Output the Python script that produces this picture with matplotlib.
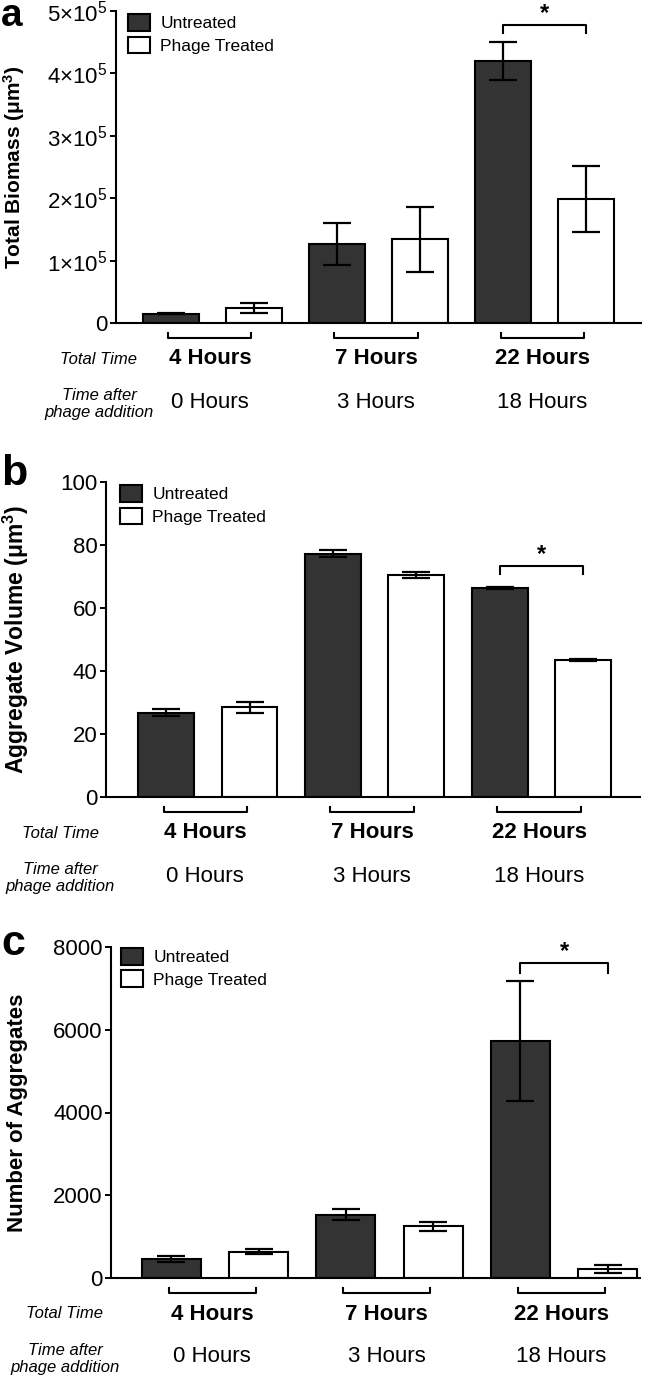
import numpy as np
import matplotlib
matplotlib.use('Agg')
import matplotlib.pyplot as plt

plt.rcParams['font.family'] = ['Liberation Sans', 'DejaVu Sans']
plt.rcParams['mathtext.fontset'] = 'custom'
plt.rcParams['mathtext.rm'] = 'Liberation Sans'
plt.rcParams['mathtext.bf'] = 'Liberation Sans:bold'
plt.rcParams['mathtext.default'] = 'rm'

# data
total_time = ['4 Hours', '7 Hours', '22 Hours']
after_phage = ['0 Hours', '3 Hours', '18 Hours']
legend_labels = ['Untreated', 'Phage Treated']

biomass_untreated = [1.5e4, 1.27e5, 4.20e5]
biomass_untreated_err = [1.0e3, 3.4e4, 3.0e4]
biomass_phage = [2.4e4, 1.34e5, 1.99e5]
biomass_phage_err = [7.5e3, 5.2e4, 5.3e4]
biomass_ticks = [0, 1e5, 2e5, 3e5, 4e5, 5e5]
biomass_ticklabels = ['0', '1×10$^{5}$', '2×10$^{5}$', '3×10$^{5}$', '4×10$^{5}$', '5×10$^{5}$']

volume_untreated = [26.8, 77.2, 66.4]
volume_untreated_err = [1.2, 1.1, 0.4]
volume_phage = [28.5, 70.4, 43.5]
volume_phage_err = [1.8, 1.0, 0.35]
volume_ticks = [0, 20, 40, 60, 80, 100]

count_untreated = [460, 1530, 5730]
count_untreated_err = [70, 140, 1460]
count_phage = [640, 1250, 220]
count_phage_err = [70, 110, 100]
count_ticks = [0, 2000, 4000, 6000, 8000]

W, H = 666, 1379
fig = plt.figure(figsize=(W / 100, H / 100), dpi=100)
dark = '#333333'


def panel(left, right, top, bottom, letter, letter_base, letter_size, u, ue, p, pe,
          ymax, ticks, ticklabels, ylabel, ylabel_size, xlim, bw, sig, label_x, lab_x, leg_xy):
    ax = fig.add_axes([left / W, 1 - bottom / H, (right - left) / W, (bottom - top) / H])
    x_u = np.arange(3) * 2
    x_p = x_u + 1
    eb = dict(elinewidth=1.6, capthick=1.6, ecolor='black')
    b1 = ax.bar(x_u, u, width=bw, color=dark, edgecolor='black', linewidth=1.5,
                yerr=ue, capsize=10, error_kw=eb)
    b2 = ax.bar(x_p, p, width=bw, color='white', edgecolor='black', linewidth=1.5,
                yerr=pe, capsize=10, error_kw=eb)
    ax.set_xlim(xlim)
    ax.set_ylim(0, ymax)
    ax.set_xticks([])
    ax.set_yticks(ticks)
    ax.set_yticklabels(ticklabels if ticklabels else [str(t) for t in ticks])
    ax.tick_params(axis='y', direction='out', length=4, width=1.4, labelsize=16, pad=2)
    for s in ['top', 'right']:
        ax.spines[s].set_visible(False)
    for s in ['left', 'bottom']:
        ax.spines[s].set_linewidth(1.5)
    ax.set_ylabel(ylabel, fontsize=ylabel_size, fontweight='bold')
    ax.yaxis.set_label_coords(label_x, 0.5)

    ax.legend([b1, b2], legend_labels, loc='upper left', bbox_to_anchor=leg_xy,
              frameon=False, fontsize=12.5, handlelength=1.26, handleheight=1.1,
              handletextpad=0.6, labelspacing=0.3, borderpad=0, borderaxespad=0)

    # significance bracket
    y0, y1 = sig
    ax.plot([4, 4, 5, 5], [y0, y1, y1, y0], color='black', lw=1.5, clip_on=False)
    ax.text(4.5, y1, '*', ha='center', va='bottom', fontsize=17, fontweight='bold')

    # group brackets and labels under the axis
    hpx = bottom - top
    tr = ax.get_xaxis_transform()
    for i in range(3):
        a, b = x_u[i] - 0.03, x_p[i] - 0.03
        ax.plot([a, a, b, b], [-10 / hpx, -15 / hpx, -15 / hpx, -10 / hpx],
                transform=tr, color='black', lw=1.5, clip_on=False)
        ax.text((a + b) / 2, -36 / hpx, total_time[i], transform=tr, ha='center',
                va='center', fontsize=16, fontweight='bold')
        ax.text((a + b) / 2, -79 / hpx, after_phage[i], transform=tr, ha='center',
                va='center', fontsize=16)
    fig.text(lab_x / W, 1 - (bottom + 36) / H, 'Total Time', ha='center', va='center',
             fontsize=12, style='italic')
    fig.text(lab_x / W, 1 - (bottom + 81) / H, 'Time after\nphage addition', ha='center',
             va='center', fontsize=12, style='italic', linespacing=1.1)
    fig.text(1 / W, 1 - letter_base / H, letter, ha='left', va='baseline',
             fontsize=letter_size, fontweight='bold')
    return ax


panel(116, 641, 11, 323, 'a', 26, 28, biomass_untreated, biomass_untreated_err,
      biomass_phage, biomass_phage_err, 5e5, biomass_ticks, biomass_ticklabels,
      r'Total Biomass (μm$\mathbf{^{3}}$)', 15, (-0.66, 5.66), 0.675, (4.65e5, 4.78e5),
      -0.17, 99, (0.023, 0.99))
panel(106, 640, 482, 797, 'b', 485, 31, volume_untreated, volume_untreated_err,
      volume_phage, volume_phage_err, 100, volume_ticks, None,
      r'Aggregate Volume (μm$\mathbf{^{3}}$)', 16.5, (-0.72, 5.68), 0.67, (70.9, 73.3),
      -0.14, 60, (0.026, 0.99))
panel(111, 640, 947, 1278, 'c', 955, 31, count_untreated, count_untreated_err,
      count_phage, count_phage_err, 8000, count_ticks, None,
      'Number of Aggregates', 16, (-0.69, 5.37), 0.675, (7382, 7609), -0.157, 65,
      (0.019, 0.997))

fig.savefig('out.png', dpi=100)
